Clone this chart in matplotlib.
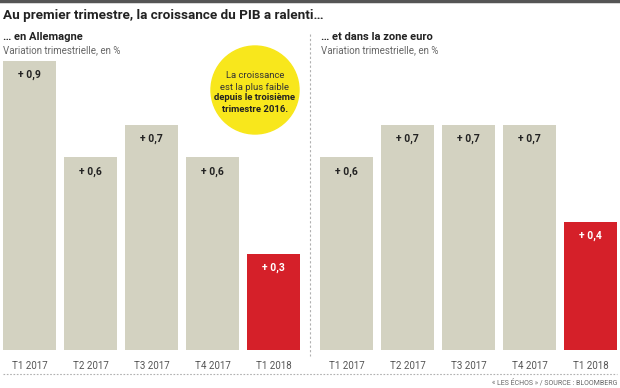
import matplotlib.pyplot as plt
from matplotlib.patches import Ellipse

plt.rcParams['font.family'] = ['Roboto', 'DejaVu Sans']

quarters = ["T1 2017", "T2 2017", "T3 2017", "T4 2017", "T1 2018"]
germany = [0.9, 0.6, 0.7, 0.6, 0.3]
eurozone = [0.6, 0.7, 0.7, 0.7, 0.4]

BEIGE = "#d3d2c1"
RED = "#d52029"
W, H = 620, 388

fig = plt.figure(figsize=(6.2, 3.88), dpi=100)
fig.patch.set_facecolor("white")


def px_axes(x0, x1, ytop, ybot):
    return fig.add_axes([x0 / W, (H - ybot) / H, (x1 - x0) / W, (ybot - ytop) / H])


def panel(ax, values):
    colors = [BEIGE] * (len(values) - 1) + [RED]
    x = range(len(values))
    ax.bar(x, values, width=0.869, color=colors)
    ax.set_xlim(-0.4344, len(values) - 1 + 0.4344)
    ax.set_ylim(0, 0.9)
    for i, v in enumerate(values):
        txt = "+ " + f"{v:.1f}".replace(".", ",")
        ax.annotate(txt, (i, v), xytext=(0, -14), textcoords="offset pixels",
                    ha="center", va="center", fontsize=7.5, fontweight="bold",
                    color="white" if i == len(values) - 1 else "#222222")
    ax.set_xticks(list(x))
    ax.set_xticklabels(quarters, fontsize=7, color="#555555")
    ax.tick_params(length=0, pad=8)
    ax.set_yticks([])
    for s in ax.spines.values():
        s.set_visible(False)
    ax.patch.set_alpha(0)


ax1 = px_axes(3, 300, 61, 350)
panel(ax1, germany)
ax2 = px_axes(320, 617, 61, 350)
panel(ax2, eurozone)

# overlay axes in pixel coordinates for decorations
ov = fig.add_axes([0, 0, 1, 1], zorder=-1)
ov.set_xlim(0, W)
ov.set_ylim(H, 0)
ov.axis("off")
ov.plot([0, W], [1, 1], color="#555555", lw=2.5)
ov.plot([310, 310], [34, 356], color="#b0b0b0", lw=0.8, ls=(0, (2, 2)))
ov.plot([3, 617], [374, 374], color="#b0b0b0", lw=0.8, ls=(0, (1.5, 1.5)))

top = fig.add_axes([0, 0, 1, 1], zorder=5)
top.set_xlim(0, W)
top.set_ylim(H, 0)
top.axis("off")
top.patch.set_alpha(0)
top.text(3, 16, "Au premier trimestre, la croissance du PIB a ralenti…",
         fontsize=9.7, fontweight="bold", color="#222222", va="center")
top.text(3, 37, "… en Allemagne", fontsize=8, fontweight="bold", color="#222222", va="center")
top.text(3, 50, "Variation trimestrielle, en %", fontsize=7, color="#666666", va="center")
top.text(321, 37, "… et dans la zone euro", fontsize=8, fontweight="bold", color="#222222", va="center")
top.text(321, 50, "Variation trimestrielle, en %", fontsize=7, color="#666666", va="center")
top.add_patch(Ellipse((255, 90), 88, 88, color="#f8e71c", zorder=6))
top.text(255, 76, "La croissance", fontsize=6.8, color="#333333", ha="center", va="center", zorder=7)
top.text(255, 87, "est la plus faible", fontsize=6.8, color="#333333", ha="center", va="center", zorder=7)
top.text(255, 98, "depuis le troisième", fontsize=6.8, fontweight="bold", color="#222222", ha="center", va="center", zorder=7)
top.text(255, 109, "trimestre 2016.", fontsize=6.8, fontweight="bold", color="#222222", ha="center", va="center", zorder=7)
top.text(617, 383, "« LES ÉCHOS » / SOURCE : BLOOMBERG", fontsize=5, color="#666666", ha="right", va="center")

fig.savefig("out.png", dpi=100)
